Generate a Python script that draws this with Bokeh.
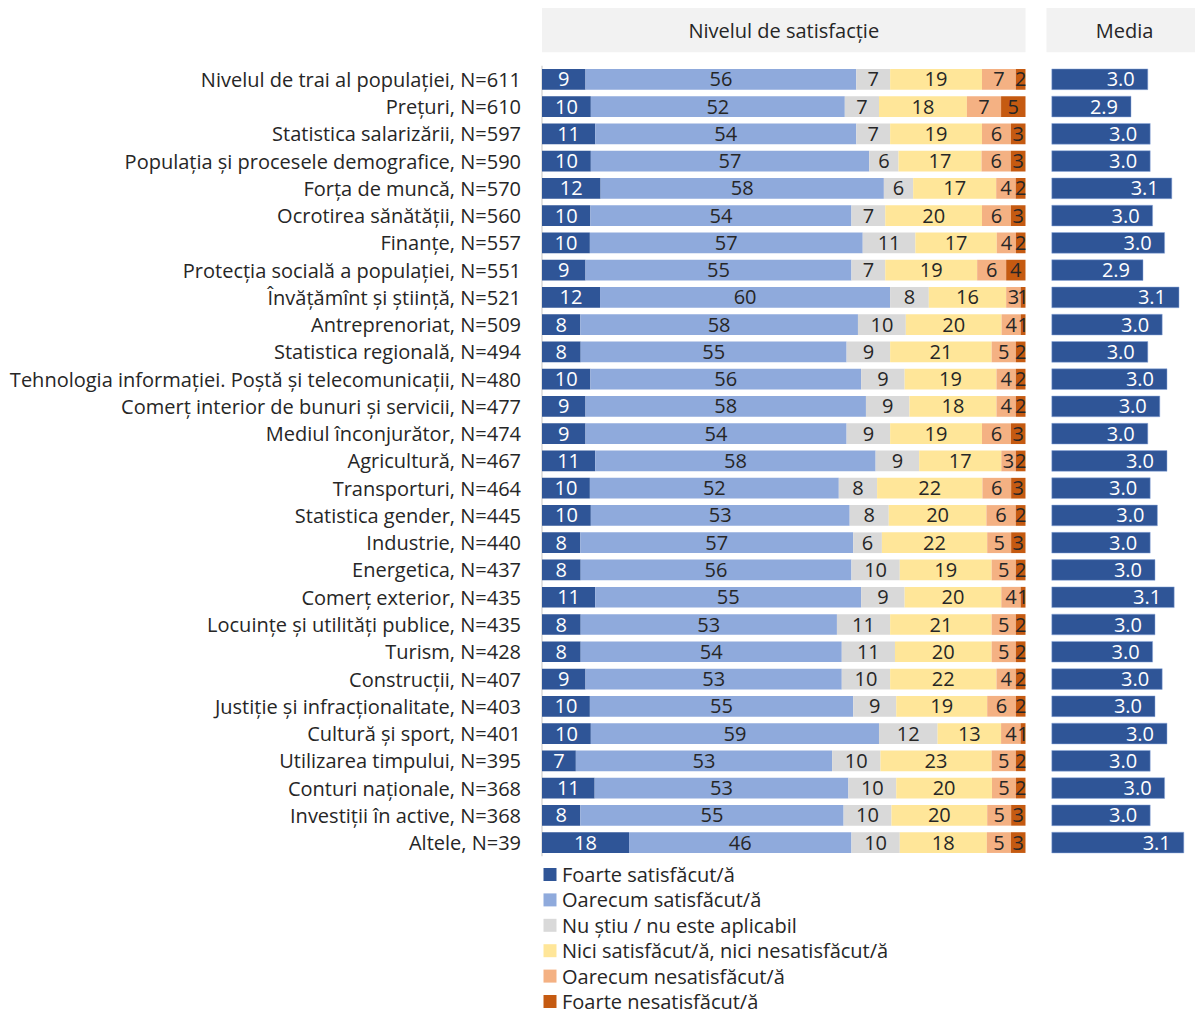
from bokeh.plotting import figure
from bokeh.models import Range1d, ColumnDataSource
from bokeh.core.properties import value
from bokeh.embed import file_html
from bokeh.resources import INLINE

# ---------------- data ----------------
names = [
    "Nivelul de trai al populației", "Prețuri", "Statistica salarizării",
    "Populația și procesele demografice", "Forța de muncă", "Ocrotirea sănătății",
    "Finanțe", "Protecția socială a populației", "Învățămînt și știință",
    "Antreprenoriat", "Statistica regională",
    "Tehnologia informației. Poștă și telecomunicații",
    "Comerț interior de bunuri și servicii", "Mediul înconjurător", "Agricultură",
    "Transporturi", "Statistica gender", "Industrie", "Energetica", "Comerț exterior",
    "Locuințe și utilități publice", "Turism", "Construcții",
    "Justiție și infracționalitate", "Cultură și sport", "Utilizarea timpului",
    "Conturi naționale", "Investiții în active", "Altele",
]
n_resp = [611, 610, 597, 590, 570, 560, 557, 551, 521, 509, 494, 480, 477, 474, 467,
          464, 445, 440, 437, 435, 435, 428, 407, 403, 401, 395, 368, 368, 39]

series_names = [
    "Foarte satisfăcut/ă", "Oarecum satisfăcut/ă", "Nu știu / nu este aplicabil",
    "Nici satisfăcut/ă, nici nesatisfăcut/ă", "Oarecum nesatisfăcut/ă",
    "Foarte nesatisfăcut/ă",
]
foarte_satisfacut = [9, 10, 11, 10, 12, 10, 10, 9, 12, 8, 8, 10, 9, 9, 11, 10, 10, 8, 8,
                     11, 8, 8, 9, 10, 10, 7, 11, 8, 18]
oarecum_satisfacut = [56, 52, 54, 57, 58, 54, 57, 55, 60, 58, 55, 56, 58, 54, 58, 52, 53,
                      57, 56, 55, 53, 54, 53, 55, 59, 53, 53, 55, 46]
nu_stiu = [7, 7, 7, 6, 6, 7, 11, 7, 8, 10, 9, 9, 9, 9, 9, 8, 8, 6, 10, 9, 11, 11, 10, 9,
           12, 10, 10, 10, 10]
nici = [19, 18, 19, 17, 17, 20, 17, 19, 16, 20, 21, 19, 18, 19, 17, 22, 20, 22, 19, 20,
        21, 20, 22, 19, 13, 23, 20, 20, 18]
oarecum_nesatisfacut = [7, 7, 6, 6, 4, 6, 4, 6, 3, 4, 5, 4, 4, 6, 3, 6, 6, 5, 5, 4, 5, 5,
                        4, 6, 4, 5, 5, 5, 5]
foarte_nesatisfacut = [2, 5, 3, 3, 2, 3, 2, 4, 1, 1, 2, 2, 2, 3, 2, 3, 2, 3, 2, 1, 2, 2,
                       2, 2, 1, 2, 2, 3, 3]

media = [2.96, 2.89, 2.97, 2.97, 3.06, 2.98, 3.03, 2.94, 3.09, 3.02, 2.96, 3.04, 3.01,
         2.96, 3.04, 2.97, 3.00, 2.97, 2.99, 3.07, 2.99, 2.98, 3.02, 2.99, 3.04, 2.97,
         3.03, 2.97, 3.11]

header_main = "Nivelul de satisfacție"
header_media = "Media"

# ---------------- styles / layout ----------------
colors = ["#2F5597", "#8FAADC", "#D9D9D9", "#FFE699", "#F4B183", "#C55A11"]
label_colors = ["#FFFFFF", "#262626", "#262626", "#262626", "#262626", "#262626"]
FONT = value("Open Sans")
FS = "20px"
W, H = 1195, 1014
PAGE = 0

# pixel layout (picture coordinates)
MAIN_X0, MAIN_X100 = 541.5, 1025.0
MEDIA_BASE = 2.56
MEDIA_PX0, MEDIA_PPU = 1051.3, 240.0
ROW0_Y, ROW_STEP = 78.8, 27.26
BAR_H = 0.76

ppu_main = (MAIN_X100 - MAIN_X0) / 100.0
x_start = (PAGE - MAIN_X0) / ppu_main
x_end = (PAGE + W - MAIN_X0) / ppu_main
m_start = MEDIA_BASE + (PAGE - MEDIA_PX0) / MEDIA_PPU
m_end = MEDIA_BASE + (PAGE + W - MEDIA_PX0) / MEDIA_PPU


def row_of(page_y):
    return (page_y - ROW0_Y) / ROW_STEP


y_top = row_of(PAGE)
y_bot = row_of(PAGE + H)

p = figure(width=W, height=H, x_range=Range1d(x_start, x_end),
           y_range=Range1d(y_bot, y_top), output_backend="svg",
           toolbar_location=None, min_border=0, x_axis_location=None,
           y_axis_location=None)
p.extra_x_ranges = {"media": Range1d(m_start, m_end)}
p.grid.visible = False
p.outline_line_color = None
p.background_fill_color = "white"
p.border_fill_color = "white"

n = len(names)
rows = list(range(n))
cat_labels = [f"{nm}, N={k}" for nm, k in zip(names, n_resp)]

# headers
hdr_top = row_of(7.5)
hdr_bottom = row_of(51.7)
hdr_mid = row_of(29.5)
p.quad(left=[0], right=[100], top=[hdr_top], bottom=[hdr_bottom],
       fill_color="#F2F2F2", line_color=None)
p.text(x=[50], y=[hdr_mid], text=[header_main], text_align="center",
       text_baseline="middle", text_font=FONT, text_font_size=FS,
       text_color="#262626")
p.quad(left=[MEDIA_BASE + (1046 - MEDIA_PX0) / MEDIA_PPU], right=[m_end], top=[hdr_top],
       bottom=[hdr_bottom], fill_color="#F2F2F2", line_color=None, x_range_name="media")
p.text(x=[MEDIA_BASE + (1124 - MEDIA_PX0) / MEDIA_PPU], y=[hdr_mid], text=[header_media],
       text_align="center", text_baseline="middle", text_font=FONT,
       text_font_size=FS, text_color="#262626", x_range_name="media")

# category axis line and labels
p.segment(x0=[0], x1=[0], y0=[-0.5], y1=[n - 0.5], line_color="#D9D9D9", line_width=1.5)
p.text(x=[0] * n, y=rows, text=cat_labels, x_offset=-21, text_align="right",
       text_baseline="middle", text_font=FONT, text_font_size=FS,
       text_color="#262626")

# stacked bars (100% stacked)
series = [foarte_satisfacut, oarecum_satisfacut, nu_stiu, nici,
          oarecum_nesatisfacut, foarte_nesatisfacut]
totals = [sum(vals) for vals in zip(*series)]
cum = [0.0] * n
for j, vals in enumerate(series):
    left = [c / t * 100 for c, t in zip(cum, totals)]
    cum = [c + v for c, v in zip(cum, vals)]
    right = [c / t * 100 for c, t in zip(cum, totals)]
    src = ColumnDataSource(dict(y=rows, left=left, right=right,
                                mid=[(a + b) / 2 for a, b in zip(left, right)],
                                lab=[str(v) for v in vals]))
    p.hbar(y="y", left="left", right="right", height=BAR_H, source=src,
           fill_color=colors[j], line_color=None)
    p.text(x="mid", y="y", text="lab", source=src, text_align="center",
           text_baseline="middle", text_font=FONT, text_font_size=FS,
           text_color=label_colors[j])

# media bars
msrc = ColumnDataSource(dict(y=rows, right=media, lab=[f"{v:.1f}" for v in media]))
p.hbar(y="y", left=MEDIA_BASE, right="right", height=BAR_H, source=msrc,
       fill_color="#2F5597", line_color="#8FAADC", line_width=0.5, x_range_name="media")
p.text(x="right", y="y", text="lab", source=msrc, x_offset=-13, text_align="right",
       text_baseline="middle", text_font=FONT, text_font_size=FS,
       text_color="white", x_range_name="media")

# legend
leg_rows = [row_of(874 + 25.4 * k) for k in range(len(series_names))]
leg_x = (549.5 - MAIN_X0) / ppu_main
p.scatter(x=[leg_x] * len(series_names), y=leg_rows, marker="square", size=13,
          fill_color=colors, line_color=None)
p.text(x=[0] * len(series_names), y=leg_rows, text=series_names, x_offset=20,
       text_align="left", text_baseline="middle", text_font=FONT,
       text_font_size=FS, text_color="#262626")

open("out.html", "w").write(file_html(p, INLINE))
